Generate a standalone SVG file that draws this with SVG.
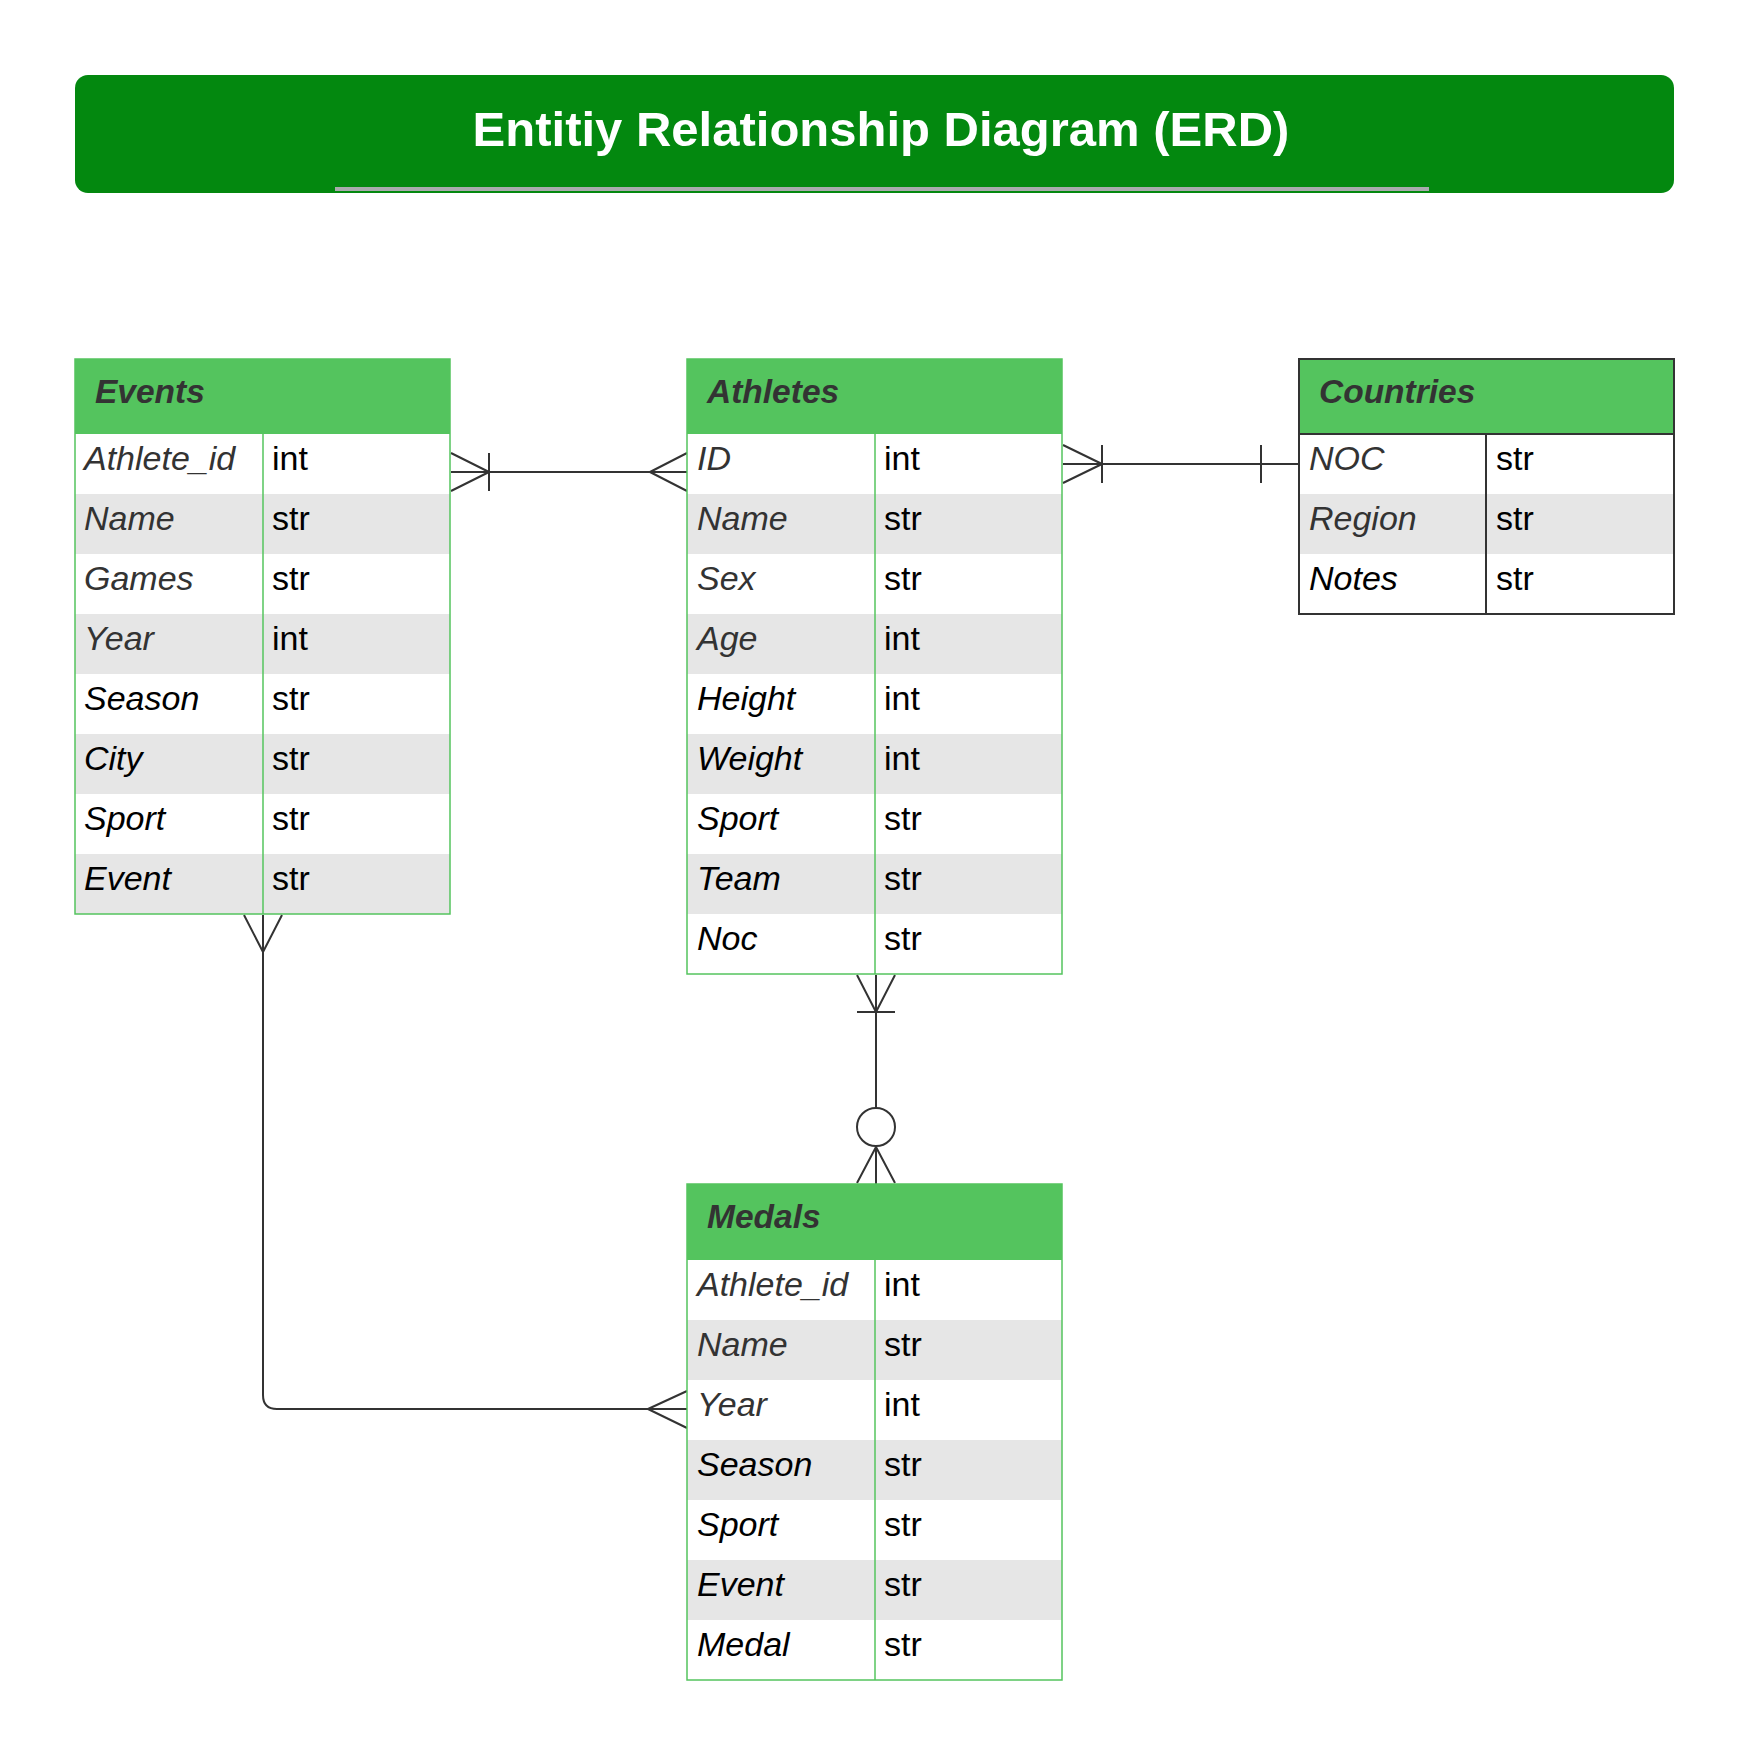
<svg xmlns="http://www.w3.org/2000/svg" width="1749" height="1755" viewBox="0 0 1749 1755">
<style>
text{font-family:"Liberation Sans",Arial,sans-serif;font-size:34px}
.hd{fill:#54C45E}
.alt{fill:#E6E6E6}
.wh{fill:#FFFFFF}
.gb{fill:none;stroke:#54C45E;stroke-width:1.5}
.db{fill:none;stroke:#333333;stroke-width:2}
.ht{font-weight:bold;font-style:italic;fill:#333333;font-size:33.5px}
.fn{font-style:italic;fill:#333333}
.fb{font-style:italic;fill:#000000}
.ty{fill:#000000}
.cn{fill:none;stroke:#333333;stroke-width:2;stroke-linejoin:round}
</style>
<rect width="1749" height="1755" fill="#FFFFFF"/>
<g id="title">
<rect x="75" y="75" width="1599" height="118" rx="13" fill="#03880F"/>
<rect x="335" y="187" width="1094" height="4" fill="#A9ABAD"/>
<text x="881" y="146" text-anchor="middle" style="font-size:49px;font-weight:bold;fill:#FFFFFF">Entitiy Relationship Diagram (ERD)</text>
</g>
<g id="connectors">
<path class="cn" d="M451,472H687M451,453L489,472L451,491M489,453V491M687,453L650,472L687,491"/>
<path class="cn" d="M1063,464H1299M1063,445L1102,464L1063,483M1102,445V483M1261,445V483"/>
<path class="cn" d="M876,975V1108M857,975L876,1012L895,975M857,1012H895M876,1146V1184M857,1183L876,1147L895,1183"/>
<circle class="cn" cx="876" cy="1127" r="19" style="fill:#FFFFFF"/>
<path class="cn" d="M263,915V1395Q263,1409 277,1409H687M244,915L263,952L282,915M687,1391L648,1409L687,1428"/>
</g>
<g id="events">
<rect class="hd" x="75" y="359" width="375" height="75"/>
<rect class="wh" x="75" y="434" width="375" height="60"/>
<rect class="alt" x="75" y="494" width="375" height="60"/>
<rect class="wh" x="75" y="554" width="375" height="60"/>
<rect class="alt" x="75" y="614" width="375" height="60"/>
<rect class="wh" x="75" y="674" width="375" height="60"/>
<rect class="alt" x="75" y="734" width="375" height="60"/>
<rect class="wh" x="75" y="794" width="375" height="60"/>
<rect class="alt" x="75" y="854" width="375" height="60"/>
<rect class="gb" x="75" y="359" width="375" height="555"/>
<line class="gb" x1="263" y1="434" x2="263" y2="914"/>
<text class="ht" x="95" y="403">Events</text>
<text class="fn" x="84" y="470">Athlete_id</text><text class="ty" x="272" y="470">int</text>
<text class="fn" x="84" y="530">Name</text><text class="ty" x="272" y="530">str</text>
<text class="fn" x="84" y="590">Games</text><text class="ty" x="272" y="590">str</text>
<text class="fn" x="84" y="650">Year</text><text class="ty" x="272" y="650">int</text>
<text class="fb" x="84" y="710">Season</text><text class="ty" x="272" y="710">str</text>
<text class="fb" x="84" y="770">City</text><text class="ty" x="272" y="770">str</text>
<text class="fb" x="84" y="830">Sport</text><text class="ty" x="272" y="830">str</text>
<text class="fb" x="84" y="890">Event</text><text class="ty" x="272" y="890">str</text>
</g>
<g id="athletes">
<rect class="hd" x="687" y="359" width="375" height="75"/>
<rect class="wh" x="687" y="434" width="375" height="60"/>
<rect class="alt" x="687" y="494" width="375" height="60"/>
<rect class="wh" x="687" y="554" width="375" height="60"/>
<rect class="alt" x="687" y="614" width="375" height="60"/>
<rect class="wh" x="687" y="674" width="375" height="60"/>
<rect class="alt" x="687" y="734" width="375" height="60"/>
<rect class="wh" x="687" y="794" width="375" height="60"/>
<rect class="alt" x="687" y="854" width="375" height="60"/>
<rect class="wh" x="687" y="914" width="375" height="60"/>
<rect class="gb" x="687" y="359" width="375" height="615"/>
<line class="gb" x1="875" y1="434" x2="875" y2="974"/>
<text class="ht" x="707" y="403">Athletes</text>
<text class="fn" x="697" y="470">ID</text><text class="ty" x="884" y="470">int</text>
<text class="fn" x="697" y="530">Name</text><text class="ty" x="884" y="530">str</text>
<text class="fn" x="697" y="590">Sex</text><text class="ty" x="884" y="590">str</text>
<text class="fn" x="697" y="650">Age</text><text class="ty" x="884" y="650">int</text>
<text class="fb" x="697" y="710">Height</text><text class="ty" x="884" y="710">int</text>
<text class="fb" x="697" y="770">Weight</text><text class="ty" x="884" y="770">int</text>
<text class="fb" x="697" y="830">Sport</text><text class="ty" x="884" y="830">str</text>
<text class="fb" x="697" y="890">Team</text><text class="ty" x="884" y="890">str</text>
<text class="fb" x="697" y="950">Noc</text><text class="ty" x="884" y="950">str</text>
</g>
<g id="countries">
<rect class="hd" x="1299" y="359" width="375" height="75"/>
<rect class="wh" x="1299" y="434" width="375" height="60"/>
<rect class="alt" x="1299" y="494" width="375" height="60"/>
<rect class="wh" x="1299" y="554" width="375" height="60"/>
<rect class="db" x="1299" y="359" width="375" height="255"/>
<line class="db" x1="1299" y1="434" x2="1674" y2="434"/>
<line class="db" x1="1486" y1="434" x2="1486" y2="614"/>
<text class="ht" x="1319" y="403">Countries</text>
<text class="fn" x="1309" y="470">NOC</text><text class="ty" x="1496" y="470">str</text>
<text class="fn" x="1309" y="530">Region</text><text class="ty" x="1496" y="530">str</text>
<text class="fb" x="1309" y="590">Notes</text><text class="ty" x="1496" y="590">str</text>
</g>
<g id="medals">
<rect class="hd" x="687" y="1184" width="375" height="76"/>
<rect class="wh" x="687" y="1260" width="375" height="60"/>
<rect class="alt" x="687" y="1320" width="375" height="60"/>
<rect class="wh" x="687" y="1380" width="375" height="60"/>
<rect class="alt" x="687" y="1440" width="375" height="60"/>
<rect class="wh" x="687" y="1500" width="375" height="60"/>
<rect class="alt" x="687" y="1560" width="375" height="60"/>
<rect class="wh" x="687" y="1620" width="375" height="60"/>
<rect class="gb" x="687" y="1184" width="375" height="496"/>
<line class="gb" x1="875" y1="1260" x2="875" y2="1680"/>
<text class="ht" x="707" y="1228">Medals</text>
<text class="fn" x="697" y="1296">Athlete_id</text><text class="ty" x="884" y="1296">int</text>
<text class="fn" x="697" y="1356">Name</text><text class="ty" x="884" y="1356">str</text>
<text class="fn" x="697" y="1416">Year</text><text class="ty" x="884" y="1416">int</text>
<text class="fb" x="697" y="1476">Season</text><text class="ty" x="884" y="1476">str</text>
<text class="fb" x="697" y="1536">Sport</text><text class="ty" x="884" y="1536">str</text>
<text class="fb" x="697" y="1596">Event</text><text class="ty" x="884" y="1596">str</text>
<text class="fb" x="697" y="1656">Medal</text><text class="ty" x="884" y="1656">str</text>
</g>
</svg>
